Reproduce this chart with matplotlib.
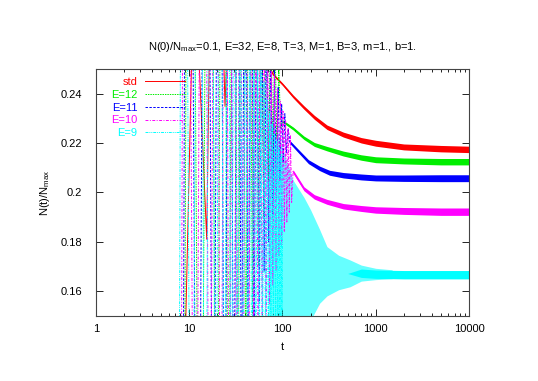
import numpy as np
import matplotlib
matplotlib.use('Agg')
import matplotlib.pyplot as plt

plt.rcParams['font.family'] = ['Liberation Sans', 'DejaVu Sans']
plt.rcParams['mathtext.fontset'] = 'custom'
plt.rcParams['mathtext.rm'] = 'Liberation Sans'
plt.rcParams['mathtext.it'] = 'Liberation Sans:italic'

labels = ['std', 'E=12', 'E=11', 'E=10', 'E=9']
colors = ['#ff0000', '#00ee00', '#0000ff', '#ff00ff', '#00ffff']

# early oscillations, turning points (t, N/Nmax)
std_osc = [(1, 0.10), (8.6, 0.10), (11.3, 0.30), (15.4, 0.181), (18.5, 0.40), (24.2, 0.235),
           (28.5, 0.31), (33.6, 0.255), (38.4, 0.29), (43.3, 0.262), (48.3, 0.278),
           (53.4, 0.262), (58.6, 0.27), (64.0, 0.255), (70, 0.2515)]
e12_osc = [(1, 0.10), (8.9, 0.10), (10.0, 0.60), (13.2, -0.05), (16.4, 0.55), (19.7, 0.0),
           (23.0, 0.50), (26.4, 0.05), (29.8, 0.45), (33.3, 0.09), (36.8, 0.40), (40.4, 0.12),
           (44.0, 0.36), (47.7, 0.15), (51.4, 0.33), (55.2, 0.17), (59.0, 0.31), (62.9, 0.19),
           (66.8, 0.29), (70.8, 0.205), (74.8, 0.275), (78.9, 0.215), (83.0, 0.262),
           (87.2, 0.222), (91.4, 0.25), (95.7, 0.226), (100, 0.229)]
e11_osc = [(1, 0.10), (8.6, 0.10), (9.6, 0.60), (12.4, -0.05), (15.2, 0.55), (18.1, 0.0),
           (21.0, 0.50), (24.0, 0.04), (27.0, 0.45), (30.1, 0.07), (33.2, 0.40), (36.4, 0.10),
           (39.6, 0.36), (42.9, 0.12), (46.2, 0.33), (49.6, 0.14), (53.0, 0.305), (56.5, 0.155),
           (60.0, 0.285), (63.6, 0.168), (67.2, 0.27), (70.9, 0.18), (74.6, 0.26), (78.4, 0.19),
           (82.2, 0.25), (86.1, 0.198), (90.0, 0.243), (94.0, 0.205), (98.0, 0.236),
           (102, 0.212), (106, 0.232), (110, 0.216), (115, 0.226), (120, 0.2205)]
e10_osc = [(1, 0.10), (8.2, 0.10), (9.1, 0.60), (11.6, -0.05), (14.1, 0.55), (16.6, 0.0),
           (19.2, 0.50), (21.8, 0.03), (24.4, 0.46), (27.0, 0.05), (29.7, 0.42), (32.4, 0.07),
           (35.1, 0.38), (37.8, 0.09), (40.6, 0.35), (43.4, 0.105), (46.2, 0.32), (49.0, 0.12),
           (51.9, 0.30), (54.8, 0.13), (57.7, 0.285), (60.6, 0.14), (63.6, 0.272), (66.6, 0.148),
           (69.6, 0.262), (72.7, 0.155), (75.8, 0.255), (78.9, 0.162), (82.0, 0.248),
           (85.2, 0.168), (88.4, 0.242), (91.6, 0.174), (94.8, 0.237), (98.0, 0.179),
           (101.3, 0.233), (104.6, 0.184), (108.0, 0.229), (111.4, 0.188), (114.8, 0.226),
           (118.3, 0.192), (121.8, 0.223), (125.3, 0.196), (130, 0.2085)]
e9_osc = [(1, 0.10), (7.8, 0.10), (8.6, 0.60), (10.6, -0.05), (12.7, 0.55), (14.9, 0.0),
          (17.0, 0.50), (19.2, 0.02), (21.5, 0.45), (23.7, 0.04), (26.0, 0.40), (28.2, 0.06),
          (30.6, 0.37), (32.9, 0.07), (35.2, 0.34), (37.6, 0.08), (39.9, 0.31), (42.3, 0.09),
          (44.6, 0.29), (47.0, 0.10), (49.3, 0.275), (51.7, 0.11), (54.0, 0.262), (56.4, 0.115),
          (58.7, 0.252), (61.1, 0.12), (63.4, 0.245), (65.8, 0.125), (68.1, 0.238),
          (70.5, 0.128), (72.8, 0.232), (75.2, 0.13), (77.5, 0.228), (79.9, 0.132),
          (82.2, 0.224), (84.6, 0.134), (86.9, 0.221), (89.3, 0.136), (91.6, 0.218),
          (94.0, 0.138), (96.3, 0.215), (98.7, 0.14), (101, 0.212)]

# noisy relaxation: time, centre, half spread
std_tail_t = [70, 80, 100, 130, 170, 220, 300, 450, 700, 1000, 2000, 5000, 10000]
std_tail_y = [0.2515, 0.2478, 0.2440, 0.2390, 0.2345, 0.2305, 0.2265, 0.2235, 0.2212, 0.2200, 0.2185, 0.2178, 0.2175]
std_tail_w = [0.0004, 0.0005, 0.0005, 0.0006, 0.0007, 0.0008, 0.0009, 0.0010, 0.0011, 0.0012, 0.0012, 0.0013, 0.0013]

e12_tail_t = [100, 130, 170, 220, 300, 450, 700, 1000, 2000, 5000, 10000]
e12_tail_y = [0.2290, 0.2260, 0.2222, 0.2195, 0.2178, 0.2158, 0.2142, 0.2133, 0.2128, 0.2125, 0.2125]
e12_tail_w = [0.0005, 0.0006, 0.0007, 0.0008, 0.0009, 0.0010, 0.0011, 0.0012, 0.0012, 0.0013, 0.0013]

e11_tail_t = [120, 150, 190, 250, 320, 450, 700, 1000, 2000, 5000, 10000]
e11_tail_y = [0.2205, 0.2166, 0.2125, 0.2098, 0.2080, 0.2070, 0.2063, 0.2059, 0.2058, 0.2058, 0.2058]
e11_tail_w = [0.0006, 0.0007, 0.0008, 0.0009, 0.0010, 0.0011, 0.0012, 0.0012, 0.0013, 0.0014, 0.0014]

e10_tail_t = [130, 170, 220, 300, 450, 700, 1000, 2000, 5000, 10000]
e10_tail_y = [0.2085, 0.2015, 0.1982, 0.1962, 0.1944, 0.1935, 0.1929, 0.1925, 0.1922, 0.1922]
e10_tail_w = [0.0007, 0.0008, 0.0009, 0.0010, 0.0011, 0.0012, 0.0013, 0.0014, 0.0015, 0.0015]

# E=9 still oscillating strongly up to t~300: envelope of the dense region
e9_env_t = [70, 100, 130, 170, 200, 250, 300, 400, 530, 700, 1000, 1500]
e9_env_lo = [0.10, 0.10, 0.10, 0.13, 0.148, 0.155, 0.158, 0.1605, 0.1617, 0.1640, 0.1646, 0.1650]
e9_env_hi = [0.235, 0.218, 0.205, 0.198, 0.193, 0.185, 0.178, 0.1745, 0.1726, 0.1705, 0.1692, 0.1686]
e9_tail_t = [500, 700, 1000, 2000, 5000, 10000]
e9_tail_y = [0.1671, 0.1672, 0.1668, 0.1666, 0.1666, 0.1666]
e9_tail_w = [0.0, 0.0017, 0.0017, 0.0017, 0.0017, 0.0017]

oscs = [std_osc, e12_osc, e11_osc, e10_osc, e9_osc]
tails = [(std_tail_t, std_tail_y, std_tail_w), (e12_tail_t, e12_tail_y, e12_tail_w),
         (e11_tail_t, e11_tail_y, e11_tail_w), (e10_tail_t, e10_tail_y, e10_tail_w),
         (e9_tail_t, e9_tail_y, e9_tail_w)]
dashes = ['-', (0, (1.5, 1.0)), (0, (2.5, 1.5)), (0, (3, 1.5, 1, 1.5)), (0, (3, 1, 1, 1, 1, 1))]

fig = plt.figure(figsize=(5.38, 3.81), dpi=100)
ax = fig.add_axes([0.1784, 0.1717, 0.6933, 0.6462])

for i in range(5):
    t, y = np.array(oscs[i]).T
    ax.plot(t, y, color=colors[i], lw=0.7, ls=dashes[i], label=labels[i])
    if i == 4:
        ax.fill_between(e9_env_t, e9_env_lo, e9_env_hi, color=colors[i], alpha=0.6, lw=0)
    tt, ty, tw = [np.array(a) for a in tails[i]]
    ax.fill_between(tt, ty - tw, ty + tw, color=colors[i], lw=0)
    if i < 4:
        ax.plot(tt, ty, color=colors[i], lw=0.8)

ax.set_xscale('log')
ax.set_xlim(1, 10000)
ax.set_ylim(0.15, 0.25)
ax.set_xticks([1, 10, 100, 1000, 10000])
ax.set_xticklabels(['1', '10', '100', '1000', '10000'])
ax.set_yticks([0.16, 0.18, 0.2, 0.22, 0.24])
ax.set_yticklabels(['0.16', '0.18', '0.2', '0.22', '0.24'])
ax.tick_params(which='both', direction='in', top=True, right=True, labelsize=8)
ax.tick_params(which='major', length=5, width=0.6)
ax.tick_params(which='minor', length=2.5, width=0.6)
ax.tick_params(axis='y', pad=10)
ax.tick_params(axis='x', pad=6)
for s in ax.spines.values():
    s.set_linewidth(0.8)
    s.set_color('#444444')

ax.set_xlabel('t', fontsize=8, labelpad=6)
ax.set_ylabel(r'N(t)/N$_{\mathrm{max}}$', fontsize=8, labelpad=6)
ax.set_title(r'N(0)/N$_{\mathrm{max}}$=0.1, E=32, E=8, T=3, M=1, B=3, m=1., b=1.', fontsize=8, pad=14)

ax.legend(loc='upper left', bbox_to_anchor=(0.02, 1.0), frameon=False, markerfirst=False,
          labelcolor='linecolor', fontsize=8, handlelength=3.6, labelspacing=0.25,
          handletextpad=0.7, borderaxespad=0.3)

fig.savefig('out.png', dpi=100)
